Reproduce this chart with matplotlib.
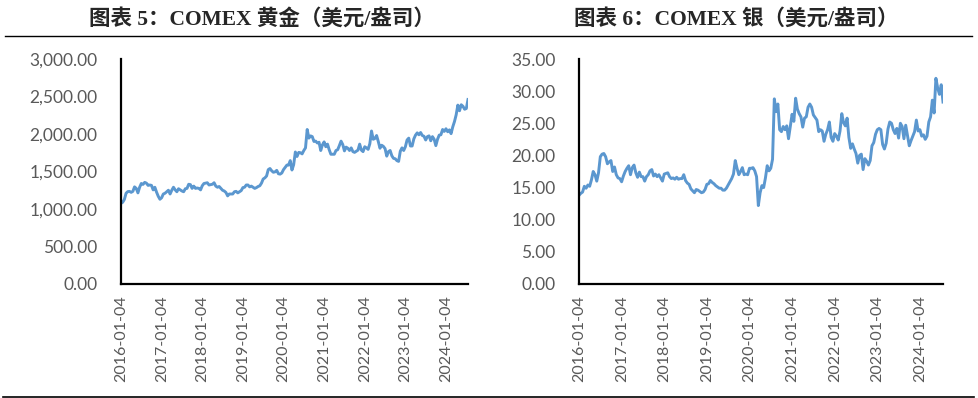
import matplotlib
matplotlib.use("Agg")
import matplotlib.pyplot as plt
import matplotlib.ticker as mticker
from matplotlib.lines import Line2D
import pandas as pd

# ---------------- data (approx. semi-monthly readings) ----------------
start_date = "2016-01-04"
end_date = "2024-07-19"

gold = [
    # 2016
    1075, 1090, 1128, 1210, 1232, 1235, 1222, 1235, 1295, 1275, 1215, 1290,
    1340, 1328, 1355, 1345, 1315, 1320, 1315, 1255, 1290, 1225, 1170, 1130,
    # 2017
    1150, 1200, 1210, 1230, 1250, 1200, 1250, 1290, 1255, 1230, 1270, 1255,
    1240, 1230, 1270, 1275, 1330, 1325, 1275, 1305, 1275, 1280, 1275, 1255,
    # 2018
    1310, 1340, 1345, 1350, 1320, 1325, 1330, 1350, 1305, 1290, 1300, 1275,
    1250, 1240, 1220, 1175, 1200, 1200, 1200, 1230, 1235, 1215, 1230, 1245,
    # 2019
    1285, 1290, 1320, 1320, 1295, 1305, 1290, 1275, 1285, 1300, 1310, 1345,
    1400, 1415, 1440, 1525, 1540, 1510, 1490, 1495, 1515, 1470, 1465, 1480,
    # 2020
    1525, 1555, 1585, 1585, 1645, 1520, 1590, 1760, 1700, 1755, 1750, 1735,
    1780, 1815, 2060, 1945, 1975, 1965, 1900, 1905, 1880, 1890, 1780, 1855,
    # 2021
    1895, 1830, 1865, 1790, 1730, 1730, 1730, 1780, 1790, 1845, 1905, 1860,
    1775, 1825, 1810, 1780, 1815, 1765, 1755, 1770, 1785, 1865, 1785, 1765,
    # 2022
    1830, 1815, 1795, 1870, 2040, 1930, 1940, 1980, 1900, 1810, 1850, 1835,
    1805, 1705, 1765, 1780, 1710, 1675, 1670, 1645, 1635, 1770, 1815, 1780,
    # 2023
    1830, 1920, 1945, 1840, 1840, 1935, 1985, 2015, 1990, 2020, 1980, 1970,
    1920, 1965, 1975, 1910, 1965, 1930, 1845, 1930, 1985, 1990, 2060, 2035,
    # 2024
    2070, 2030, 2055, 2005, 2095, 2165, 2255, 2385, 2310, 2390, 2370, 2330,
    2340, 2460,
]

silver = [
    # 2016
    13.8, 14.1, 14.3, 15.2, 14.9, 15.4, 15.2, 16.2, 17.5, 17.0, 16.0, 17.3,
    19.8, 20.2, 20.3, 19.8, 18.7, 19.0, 19.2, 17.5, 18.2, 17.0, 16.5, 16.4,
    # 2017
    15.9, 16.8, 17.5, 18.0, 18.4, 17.0, 18.1, 18.5, 17.3, 16.6, 17.4, 16.7,
    16.7, 16.0, 16.7, 17.0, 17.6, 17.8, 16.8, 17.1, 16.7, 17.0, 16.5, 16.0,
    # 2018
    17.1, 17.2, 17.3, 16.7, 16.4, 16.5, 16.3, 16.6, 16.3, 16.4, 16.4, 17.0,
    16.1, 15.7, 15.5, 14.8, 14.5, 14.2, 14.7, 14.6, 14.4, 14.2, 14.3, 14.7,
    # 2019
    15.5, 15.6, 16.1, 15.8, 15.6, 15.3, 15.1, 14.9, 14.9, 14.6, 14.6, 14.9,
    15.4, 15.9, 16.4, 17.1, 19.2, 18.0, 17.0, 17.5, 18.1, 17.0, 17.1, 17.0,
    # 2020
    18.0, 18.0, 18.1, 17.6, 16.7, 12.2, 14.2, 15.3, 15.0, 16.5, 18.4, 17.6,
    18.0, 19.4, 28.8, 26.8, 28.0, 24.0, 23.7, 24.5, 24.0, 24.6, 22.6, 24.5,
    # 2021
    26.4, 25.3, 28.9, 27.2, 26.5, 26.0, 24.4, 25.8, 26.0, 27.5, 28.0, 27.5,
    26.3, 25.9, 25.5, 23.7, 24.0, 23.8, 22.2, 23.3, 24.0, 25.2, 22.8, 22.2,
    # 2022
    23.4, 23.0, 22.4, 23.8, 26.5, 25.1, 24.6, 25.8, 22.8, 21.1, 21.8, 21.0,
    20.3, 18.8, 20.0, 20.2, 17.8, 19.5, 19.1, 18.5, 19.2, 21.5, 22.0, 23.3,
    # 2023
    24.0, 24.2, 24.0, 21.7, 21.0, 21.9, 24.1, 25.2, 25.0, 24.0, 23.4, 24.2,
    22.7, 25.0, 24.5, 22.6, 24.7, 23.1, 21.5, 22.3, 23.0, 23.7, 25.5, 23.8,
    # 2024
    24.0, 23.0, 23.2, 22.5, 23.0, 25.2, 26.0, 28.6, 26.6, 32.0, 30.5, 29.5,
    31.0, 28.3,
]

tick_dates = ["2016-01-04", "2017-01-04", "2018-01-04", "2019-01-04", "2020-01-04",
              "2021-01-04", "2022-01-04", "2023-01-04", "2024-01-04"]

titles = ["图表 5：COMEX 黄金（美元/盎司）", "图表 6：COMEX 银（美元/盎司）"]

# ---------------- styling ----------------
LINE_C = "#5B97CF"
TICK_C = "#595959"
plt.rcParams["font.family"] = ["Lato", "DejaVu Sans"]

fig = plt.figure(figsize=(9.79, 3.98), dpi=100)

panels = [
    dict(values=gold, rect=[121 / 979, 1 - 284 / 398, (468 - 121) / 979, (284 - 59) / 398],
         ymax=3000, step=500, fmt="{x:,.2f}", title_x=262 / 979),
    dict(values=silver, rect=[579 / 979, 1 - 284 / 398, (943 - 579) / 979, (284 - 59) / 398],
         ymax=35, step=5, fmt="{x:,.2f}", title_x=736 / 979),
]

for p, title in zip(panels, titles):
    ax = fig.add_axes(p["rect"])
    dates = pd.date_range(start_date, end_date, periods=len(p["values"]))
    ax.plot(dates, p["values"], color=LINE_C, lw=2.1, solid_joinstyle="round")
    ax.set_xlim(pd.Timestamp(start_date), pd.Timestamp(end_date))
    ax.set_ylim(0, p["ymax"])
    ax.yaxis.set_major_locator(mticker.MultipleLocator(p["step"]))
    ax.yaxis.set_major_formatter(mticker.StrMethodFormatter(p["fmt"]))
    ax.set_xticks(pd.to_datetime(tick_dates))
    ax.set_xticklabels(tick_dates, rotation=90)
    for s in ["top", "right"]:
        ax.spines[s].set_visible(False)
    for s in ["left", "bottom"]:
        ax.spines[s].set_linewidth(1.6)
        ax.spines[s].set_color("black")
    ax.tick_params(axis="y", length=0, pad=17, labelsize=12.5, labelcolor=TICK_C)
    ax.tick_params(axis="x", length=0, pad=8, labelsize=11.5, labelcolor=TICK_C)
    ax.patch.set_alpha(0)
    fig.text(p["title_x"], 1 - 19 / 398, title, ha="center", va="center",
             fontsize=15.5, fontweight="bold", color="#262626",
             family=["Liberation Serif", "Noto Sans CJK SC"])

# header and footer rules
fig.add_artist(Line2D([5 / 979, 972 / 979], [1 - 36 / 398] * 2, color="black", lw=1.0,
                      transform=fig.transFigure))
fig.add_artist(Line2D([3 / 979, 974 / 979], [1 - 396.5 / 398] * 2, color="black", lw=1.2,
                      transform=fig.transFigure))

fig.savefig("out.png", dpi=100, facecolor="white")
